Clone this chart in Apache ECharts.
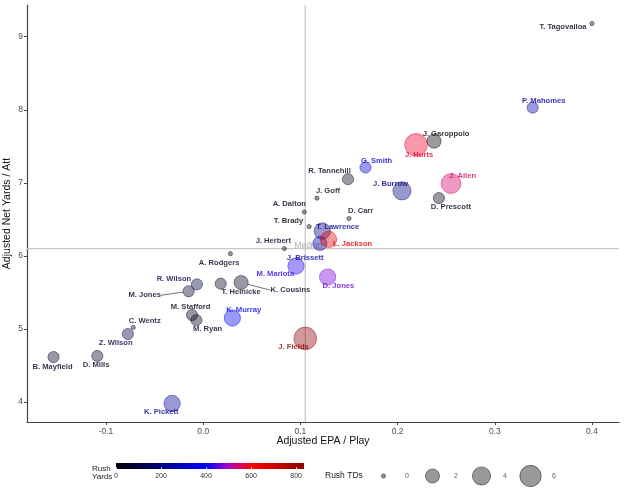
<!DOCTYPE html>
<html><head><meta charset="utf-8">
<script src="https://cdn.jsdelivr.net/npm/echarts@6/dist/echarts.min.js"></script>
<style>html,body{margin:0;padding:0;background:#fff}#c{width:625px;height:500px}</style>
</head><body><div id="c"></div>
<script>
// ---------------- data ----------------
const names = ['T. Tagovailoa','P. Mahomes','J. Garoppolo','J. Hurts','G. Smith','R. Tannehill','J. Burrow','J. Allen','D. Prescott','J. Goff','D. Carr','A. Dalton','T. Brady','J. Herbert','T. Lawrence','J. Brissett','L. Jackson','M. Mariota','D. Jones','J. Fields','K. Murray','K. Pickett','T. Heinicke','K. Cousins','M. Jones','R. Wilson','A. Rodgers','M. Stafford','M. Ryan','C. Wentz','Z. Wilson','D. Mills','B. Mayfield'];
const epa = [0.400,0.339,0.2375,0.219,0.167,0.149,0.2045,0.255,0.2425,0.117,0.150,0.104,0.109,0.0835,0.1225,0.120,0.129,0.0955,0.128,0.105,0.030,-0.032,0.018,0.039,-0.015,-0.0065,0.028,-0.0115,-0.007,-0.072,-0.0775,-0.109,-0.154];
const anya = [9.18,8.03,7.57,7.52,7.21,7.05,6.89,6.99,6.79,6.79,6.51,6.60,6.40,6.10,6.34,6.17,6.225,5.86,5.71,4.87,5.15,3.98,5.62,5.635,5.515,5.61,6.03,5.19,5.12,5.02,4.93,4.63,4.615];
const rushTD = [0,1,2,7,1,1,4,5,1,0,0,0,0,0,3,2,3,3,3,7,3,3,1,2,1,1,0,1,1,0,1,1,1];
const rushYds = [30,260,20,580,330,40,200,550,40,10,40,30,0,60,200,250,680,420,470,835,380,230,50,50,60,100,50,30,40,50,100,60,60];
const medianEPA = 0.105;
const medianANYA = 6.10;
const xTicks = [-0.1,0.0,0.1,0.2,0.3,0.4];
const yTicks = [4,5,6,7,8,9];
const yardTicks = [0,200,400,600,800];
const tdLegend = [0,2,4,6];

// ---------------- styling ----------------
const X_MIN = -0.1813, X_MAX = 0.4278, Y_MIN = 3.726, Y_MAX = 9.434;
const labelOffsets = [[-29,3],[11,-7],[12,-7],[3,10],[11,-7],[-18.5,-8],[-11.5,-7],[11.5,-7.7],[12,9],[11,-7.6],[11.6,-8],[-15,-7.7],[-20.7,-5.3],[-11,-7.3],[15.5,-3.7],[-14.7,14.3],[24,4],[-20.7,8.3],[10.8,9],[-11.7,8.4],[11.3,-7.7],[-10.8,8.7],[20.4,8.7],[49.3,7.7],[-44,4],[-23,-5.6],[-11.3,9],[-1.4,-7.7],[11.2,9],[11.5,-7],[-12.2,9],[-1.2,9],[-1,10]];
const segmentLabels = ['K. Cousins','M. Jones'];
const yardsMax = Math.max(...rushYds);
const colorStops = [[0,[0,0,0]],[400,[0,0,255]],[500,[170,0,200]],[600,[255,0,0]],[yardsMax,[139,0,0]]];
function colorAt(v){
  if (v <= colorStops[0][0]) return colorStops[0][1];
  for (let k=1;k<colorStops.length;k++){
    if (v <= colorStops[k][0]){
      const a=colorStops[k-1], b=colorStops[k], t=(v-a[0])/(b[0]-a[0]);
      return a[1].map((c,j)=>Math.round(c+(b[1][j]-c)*t));
    }
  }
  return colorStops[colorStops.length-1][1];
}
const rgba=(c,a)=>`rgba(${c[0]},${c[1]},${c[2]},${a})`;
function sizeFor(td){ return 4.2*(1+5*Math.sqrt(td/9)); }
const FONT = 'Liberation Sans, Arial, sans-serif';

const mainData = names.map((n,i)=>{
  const c = colorAt(rushYds[i]);
  return {
    name: n,
    value: [epa[i], anya[i], rushTD[i], rushYds[i]],
    itemStyle: {color: rgba(c,0.5), borderColor: rgba(c,0.7), borderWidth: 0.8},
    label: {color: rgba(c,1)},
    labelLine: {show: segmentLabels.includes(n), lineStyle:{color:'#333', width:0.7}}
  };
});

const medianLineStyle = {color:'#c8c8c8', width:1.3, type:'solid'};

const chart = echarts.init(document.getElementById('c'), null, {renderer:'canvas'});
chart.setOption({
  backgroundColor:'#fff',
  animation:false,
  textStyle:{fontFamily:FONT},
  grid:[
    {left:27, right:6, top:5, bottom:78, outerBoundsMode:'none', containLabel:false},
    {left:116, width:188, top:463, height:6, outerBoundsMode:'none', containLabel:false},
    {left:359, width:196, top:466, height:20, outerBoundsMode:'none', containLabel:false}
  ],
  xAxis:[
    {type:'value', gridIndex:0, min:X_MIN, max:X_MAX,
     name:'Adjusted EPA / Play', nameLocation:'middle', nameGap:14, nameMoveOverlap:false,
     nameTextStyle:{fontSize:10.5, color:'#111', fontFamily:FONT},
     splitLine:{show:false},
     axisLine:{show:true, onZero:false, lineStyle:{color:'#444', width:1.2}},
     axisTick:{show:true, length:3, lineStyle:{color:'#444'}, customValues:xTicks},
     axisLabel:{fontSize:8.5, color:'#4d4d4d', margin:5, customValues:xTicks, formatter:v=>v.toFixed(1)}},
    {type:'value', gridIndex:1, min:0, max:yardsMax, z:10,
     splitLine:{show:false}, axisLine:{show:false},
     axisTick:{show:true, inside:true, length:1.5, lineStyle:{color:'#fff', width:1}, customValues:yardTicks},
     axisLabel:{fontSize:7, color:'#333', margin:4, customValues:yardTicks}},
    {type:'category', gridIndex:2, data:tdLegend.map(String), show:false}
  ],
  yAxis:[
    {type:'value', gridIndex:0, min:Y_MIN, max:Y_MAX,
     name:'Adjusted Net Yards / Att', nameLocation:'middle', nameGap:14, nameMoveOverlap:false,
     nameTextStyle:{fontSize:10.5, color:'#111', fontFamily:FONT},
     splitLine:{show:false},
     axisLine:{show:true, onZero:false, lineStyle:{color:'#444', width:1.2}},
     axisTick:{show:true, length:3, lineStyle:{color:'#444'}, customValues:yTicks},
     axisLabel:{fontSize:8.5, color:'#4d4d4d', margin:4, customValues:yTicks}},
    {type:'value', gridIndex:1, min:0, max:1, show:false},
    {type:'value', gridIndex:2, min:0, max:1, show:false}
  ],
  graphic:[
    {type:'text', left:92, top:465, style:{text:'Rush', fontSize:8, fill:'#222', fontFamily:FONT}},
    {type:'text', left:92, top:473, style:{text:'Yards', fontSize:8, fill:'#222', fontFamily:FONT}},
    {type:'text', left:325, top:471, style:{text:'Rush TDs', fontSize:8.5, fill:'#222', fontFamily:FONT}}
  ],
  series:[
    {type:'line', xAxisIndex:0, yAxisIndex:0, z:1, silent:true, symbol:'none',
     data:[[medianEPA, Y_MIN],[medianEPA, Y_MAX]], lineStyle:medianLineStyle},
    {type:'line', xAxisIndex:0, yAxisIndex:0, z:1, silent:true, symbol:'none',
     data:[[X_MIN, medianANYA],[X_MAX, medianANYA]], lineStyle:medianLineStyle},
    {type:'scatter', xAxisIndex:0, yAxisIndex:0, z:1, silent:true,
     data:[[medianEPA, medianANYA]], symbolSize:1, itemStyle:{color:'rgba(0,0,0,0)'},
     label:{show:true, formatter:'Median', position:'inside', offset:[3,-2.5], fontSize:8.5, color:'#9a9a9a', fontFamily:FONT}},
    {type:'scatter', xAxisIndex:0, yAxisIndex:0, z:3,
     data:mainData,
     symbolSize:v=>sizeFor(v[2]),
     label:{show:true, position:'inside', formatter:p=>p.name, fontSize:7.6, fontWeight:'bold', fontFamily:FONT},
     labelLayout:p=>{const o=labelOffsets[p.dataIndex]; return {dx:o[0], dy:o[1]};}},
    {type:'custom', xAxisIndex:1, yAxisIndex:1, silent:true, data:[[0,0]],
     renderItem:(params, api)=>{
       const p0 = api.coord([0,0]), p1 = api.coord([yardsMax,1]);
       const stops=[];
       for(let k=0;k<=60;k++){ stops.push({offset:k/60, color:rgba(colorAt(yardsMax*k/60),1)}); }
       return {type:'rect', shape:{x:p0[0], y:p1[1], width:p1[0]-p0[0], height:p0[1]-p1[1]},
               style:{fill:new echarts.graphic.LinearGradient(0,0,1,0,stops)}};
     }},
    {type:'scatter', xAxisIndex:2, yAxisIndex:2, silent:true,
     data:tdLegend.map((t,i)=>[i,0.5,t]),
     symbolSize:v=>sizeFor(v[2]),
     itemStyle:{color:'rgba(0,0,0,0.5)', borderColor:'rgba(0,0,0,0.7)', borderWidth:0.8},
     label:{show:true, position:'inside', offset:[23.5,0], formatter:p=>String(p.value[2]), fontSize:7, color:'#333', fontFamily:FONT}}
  ]
});
</script></body></html>
